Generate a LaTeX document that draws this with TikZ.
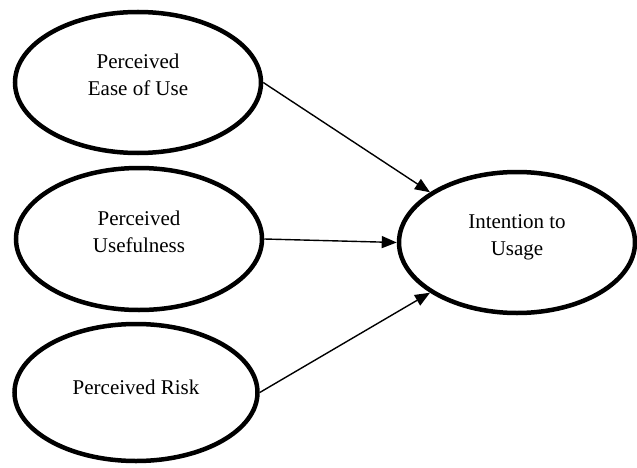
\documentclass[tikz,border=0pt]{standalone}
\usepackage{fontspec}
\setmainfont{Liberation Serif}
\usetikzlibrary{shapes.geometric,arrows.meta}
\begin{document}
\begin{tikzpicture}[x=1pt,y=-1pt,font=\fontsize{21}{27}\selectfont,
  construct/.style={ellipse,draw,line width=4.5pt,inner sep=0pt,align=center},
  path/.style={line width=1.4pt,-{Triangle[length=15pt,width=12pt]}}]
\useasboundingbox (0,0) rectangle (637,468);
\node[construct,minimum width=246,minimum height=141,text depth=15] (ease) at (138,82.5) {Perceived\\Ease of Use};
\node[construct,minimum width=246,minimum height=142,text depth=15] (useful) at (139,239) {Perceived\\Usefulness};
\node[construct,minimum width=243,minimum height=137,text depth=11] (risk) at (136,392.5) {Perceived Risk};
\node[construct,minimum width=236,minimum height=141,text depth=15] (intent) at (517,242.5) {Intention to\\Usage};
\draw[path] (ease.east) -- (intent.150);
\draw[path] (useful.east) -- (intent.west);
\draw[path] (risk.east) -- (intent.210);
\end{tikzpicture}
\end{document}
